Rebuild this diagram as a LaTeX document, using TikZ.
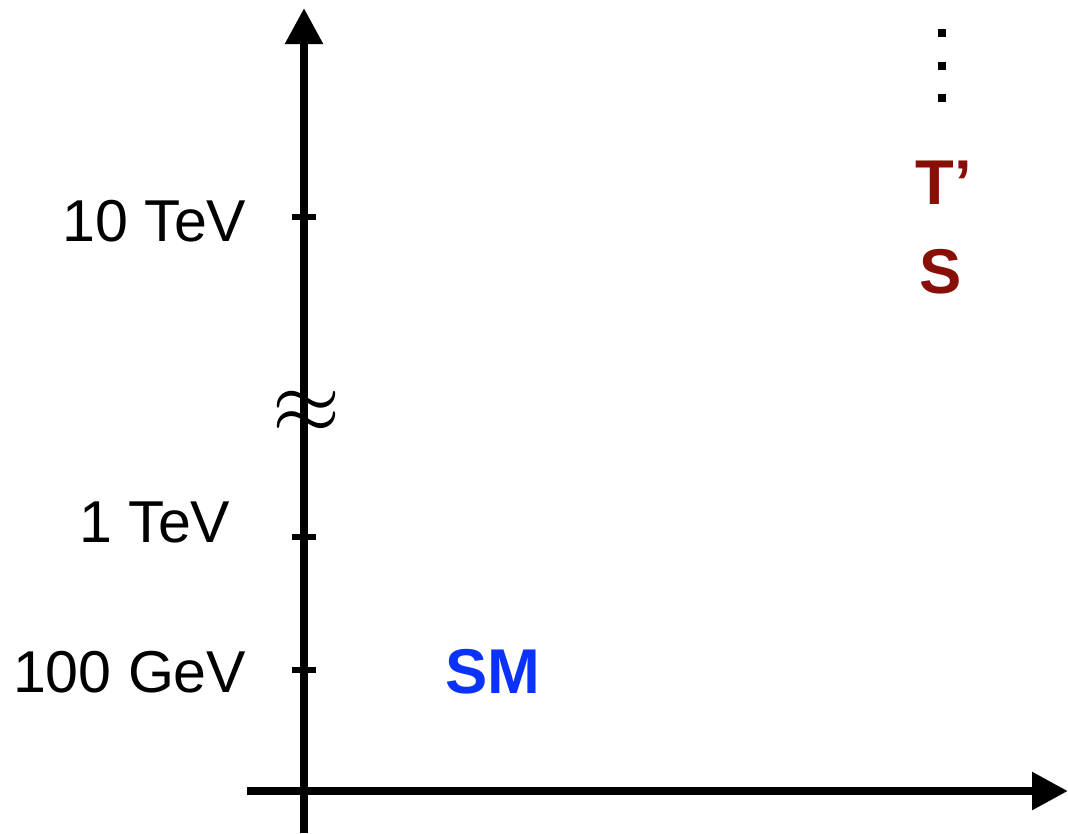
\documentclass[tikz,border=0pt]{standalone}
\usepackage{fontspec}
\setmainfont{Liberation Sans}
\usetikzlibrary{arrows.meta, positioning}
\definecolor{smblue}{RGB}{10,50,250}
\definecolor{newred}{RGB}{135,15,5}

\begin{document}
\begin{tikzpicture}[x=0.01cm, y=-0.01cm, >={Triangle[width=0.36cm, length=0.36cm]}]
    \tikzset{axis/.style={line width=0.085cm},
        tick/.style={line width=0.055cm},
        scalelabel/.style={anchor=east, inner sep=0pt, font=\fontsize{16.8}{19}\selectfont},
        particle/.style={inner sep=0pt, font=\fontsize{18}{20}\selectfont\bfseries}
    }
    \useasboundingbox (0,0) rectangle (1068,833);

    \coordinate (Y-Bottom) at (304,833);
    \coordinate (Y-Top) at (304,8);
    \coordinate (X-Left) at (247,791);
    \coordinate (X-Right) at (1068,791);
    \draw [axis, ->] (Y-Bottom) -- (Y-Top);
    \draw [axis, ->] (X-Left) -- (X-Right);

    \foreach \i / \y / \xl / \yl / \txt in {0/217/247/221/10 TeV, 1/537/231/522/1 TeV, 2/670/247/672/100 GeV} {
        \coordinate (T\i) at (304,\y);
        \draw [tick] ([xshift=-0.12cm]T\i) -- ([xshift=0.12cm]T\i);
        \node (L\i) [scalelabel] at (\xl,\yl) {\txt};
    }

    \node (Break) [inner sep=0pt, font=\fontsize{23}{26}\selectfont] at (307,412) {$\approx$};

    \node (SM) [particle, text=smblue] at (493,672) {SM};
    \node (Tp) [particle, text=newred] at (944,183) {T’};
    \node (S) [particle, text=newred] at (941,272) {S};

    \foreach \y in {33,66,98}
        \fill (938,\y-4) rectangle (946,\y+4);
\end{tikzpicture}
\end{document}
